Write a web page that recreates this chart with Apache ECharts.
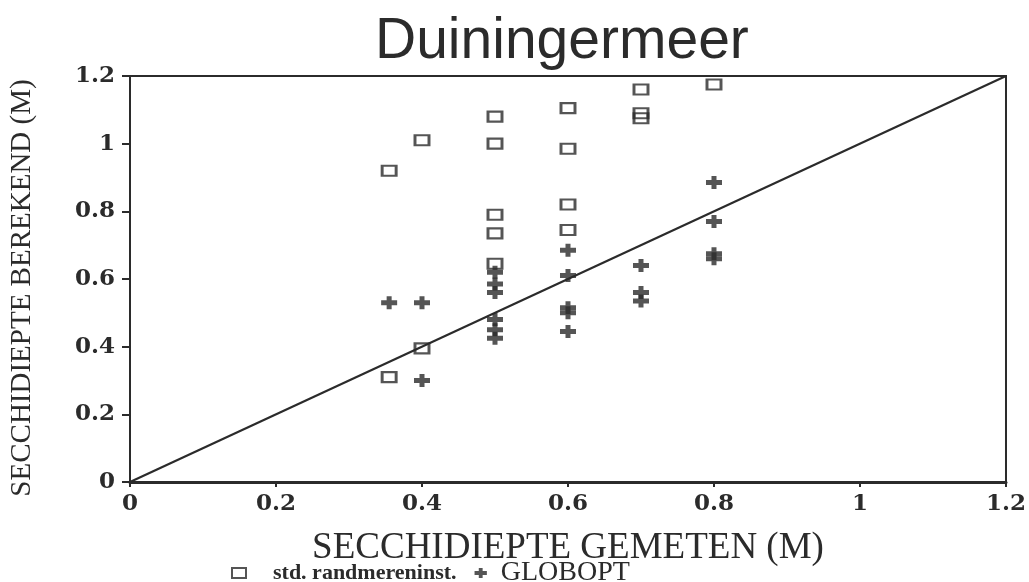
<!DOCTYPE html>
<html>
<head>
<meta charset="utf-8">
<title>Duiningermeer</title>
<script src="https://cdn.jsdelivr.net/npm/echarts@6/dist/echarts.min.js"></script>
<style>
  html, body { margin: 0; padding: 0; background: #ffffff; }
  #chart { width: 1029px; height: 582px; }
</style>
</head>
<body>
<div id="chart"></div>
<script>
// Secchi depth: measured (x) versus computed (y), in metres
const stdMeasured = [0.355, 0.355, 0.4, 0.4, 0.5, 0.5, 0.5, 0.5, 0.5, 0.6, 0.6, 0.6, 0.6, 0.7, 0.7, 0.7, 0.8];
const stdComputed = [0.92, 0.31, 1.01, 0.395, 1.08, 1.0, 0.79, 0.735, 0.645, 1.105, 0.985, 0.82, 0.745, 1.16, 1.09, 1.075, 1.175];

const globMeasured = [0.355, 0.4, 0.4, 0.5, 0.5, 0.5, 0.5, 0.5, 0.5, 0.6, 0.6, 0.6, 0.6, 0.6, 0.7, 0.7, 0.7, 0.8, 0.8, 0.8, 0.8];
const globComputed = [0.53, 0.53, 0.30, 0.62, 0.585, 0.56, 0.48, 0.45, 0.425, 0.685, 0.61, 0.515, 0.50, 0.445, 0.64, 0.56, 0.535, 0.885, 0.77, 0.675, 0.66];

// 1:1 reference line
const lineX = [0, 1.2];
const lineY = [0, 1.2];

const seriesNames = ['std. randmereninst.', 'GLOBOPT'];
const axisTicks = [0, 0.2, 0.4, 0.6, 0.8, 1, 1.2];

const ink = '#2b2b2b';
const zip = (xs, ys) => xs.map((x, i) => [x, ys[i]]);
const plusPath = 'path://M0,4H5.5V0H10.5V4H16V9H10.5V13H5.5V9H0Z';
const serif = '"Liberation Serif", "DejaVu Serif", serif';
const tickFont = '"DejaVu Serif", "Liberation Serif", serif';
const tickText = v => String(axisTicks.find(t => Math.abs(t - v) < 1e-9) ?? v);

const chart = echarts.init(document.getElementById('chart'), null, { renderer: 'canvas' });

chart.setOption({
  backgroundColor: '#ffffff',
  animation: false,
  title: {
    text: 'Duiningermeer',
    left: 370,
    top: 9,
    textStyle: { fontFamily: '"Liberation Sans", Arial, sans-serif', fontSize: 57, fontWeight: 'normal', color: ink }
  },
  grid: {
    left: 127, right: 21, top: 76, bottom: 100,
    show: true, borderColor: ink, borderWidth: 2, backgroundColor: 'transparent'
  },
  legend: {
    data: seriesNames,
    left: 226, top: 554,
    itemWidth: 14, itemHeight: 10, itemGap: 18,
    formatter: name => name === seriesNames[0] ? '{a|' + name + '}' : '{b|' + name + '}',
    textStyle: {
      fontFamily: serif, fontWeight: 'bold', color: ink,
      rich: {
        a: { fontFamily: serif, fontSize: 22, fontWeight: 'bold', color: ink, padding: [0, 0, 0, 22] },
        b: { fontFamily: serif, fontSize: 28, fontWeight: 'normal', color: ink, padding: [0, 0, 0, 8] }
      }
    }
  },
  xAxis: {
    type: 'value', min: 0, max: 1.2, interval: 0.2,
    name: 'SECCHIDIEPTE GEMETEN (M)',
    nameLocation: 'middle', nameGap: 48,
    nameTextStyle: { fontFamily: serif, fontSize: 37, color: ink },
    axisLine: { show: true, lineStyle: { color: ink, width: 3 } },
    axisTick: { show: true, length: 5, lineStyle: { color: ink, width: 2 } },
    axisLabel: {
      fontFamily: tickFont, fontSize: 23, fontWeight: 'bold', color: ink, margin: 11,
      formatter: tickText
    },
    splitLine: { show: false }
  },
  yAxis: {
    type: 'value', min: 0, max: 1.2, interval: 0.2,
    name: 'SECCHIDIEPTE BEREKEND (M)',
    nameLocation: 'middle', nameGap: 93,
    nameTextStyle: { fontFamily: serif, fontSize: 29, color: ink, padding: [0, 18, 0, 0] },
    axisLine: { show: true, lineStyle: { color: ink, width: 2 } },
    axisTick: { show: true, length: 8, lineStyle: { color: ink, width: 2 } },
    axisLabel: {
      fontFamily: tickFont, fontSize: 23, fontWeight: 'bold', color: ink, margin: 15,
      formatter: tickText
    },
    splitLine: { show: false }
  },
  series: [
    {
      name: 'line',
      type: 'line',
      data: zip(lineX, lineY),
      showSymbol: false,
      symbol: 'none',
      lineStyle: { color: ink, width: 2.2 },
      silent: true,
      z: 1
    },
    {
      name: seriesNames[0],
      type: 'scatter',
      data: zip(stdMeasured, stdComputed),
      symbol: 'rect',
      symbolSize: [14, 10],
      itemStyle: { color: 'rgba(255,255,255,0)', borderColor: ink, borderWidth: 2.5 },
      z: 3
    },
    {
      name: seriesNames[1],
      type: 'scatter',
      data: zip(globMeasured, globComputed),
      symbol: plusPath,
      symbolSize: [16, 13],
      itemStyle: { color: ink },
      z: 2
    }
  ]
});
</script>
</body>
</html>
